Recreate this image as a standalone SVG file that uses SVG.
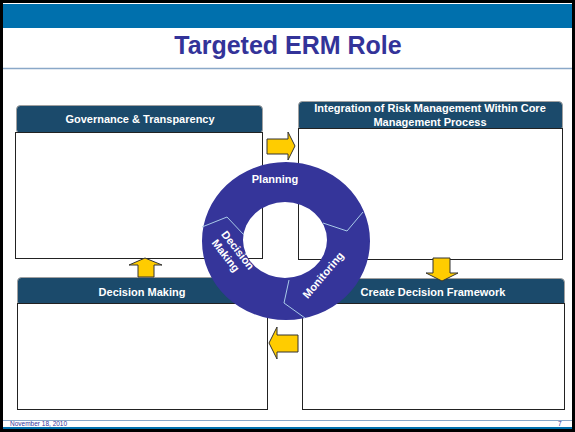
<svg xmlns="http://www.w3.org/2000/svg" width="575" height="432" viewBox="0 0 575 432">
  <style>
    .hdr { fill: #1b4a6b; stroke: #a0a0a0; stroke-width: 1; }
    .body { fill: #ffffff; stroke: #222222; stroke-width: 1; }
    .hdrtxt { font-family: "Liberation Sans", Arial, sans-serif; font-weight: bold; font-size: 11px; fill: #ffffff; text-anchor: middle; }
    .ringtxt { font-family: "Liberation Sans", Arial, sans-serif; font-weight: bold; font-size: 11px; fill: #ffffff; text-anchor: middle; }
    .arrow { fill: #ffcc00; stroke: #333333; stroke-width: 1; stroke-linejoin: miter; }
    .sep { fill: none; stroke: #a9cbe8; stroke-width: 1; }
    .foot { font-family: "Liberation Sans", Arial, sans-serif; font-size: 6.5px; fill: #333399; }
  </style>

  <!-- slide background and frame -->
  <rect x="0" y="0" width="575" height="432" fill="#ffffff"/>
  <rect x="3" y="4" width="569" height="24" fill="#0070ad"/>
  <rect x="0" y="427" width="575" height="5" fill="#0070ad"/>
  <line x1="3" y1="68.5" x2="572" y2="68.5" stroke="#8aa8c8" stroke-width="1.5"/>
  <line x1="3" y1="420.5" x2="572" y2="420.5" stroke="#8aa8c8" stroke-width="1"/>
  <rect x="1.5" y="1.5" width="572" height="429" fill="none" stroke="#000000" stroke-width="3"/>

  <text x="288" y="54" font-family="Liberation Sans, Arial, sans-serif" font-weight="bold" font-size="25" fill="#333399" text-anchor="middle">Targeted ERM Role</text>

  <text class="foot" x="10" y="425.5">November 18, 2010</text>
  <text class="foot" x="558" y="425.5">7</text>

  <!-- quadrant boxes -->
  <g id="governance">
    <rect class="hdr" x="16.5" y="105.5" width="246" height="28" rx="4"/>
    <rect class="body" x="15.5" y="132.5" width="247" height="126"/>
    <text class="hdrtxt" x="140" y="123">Governance &amp; Transparency</text>
  </g>

  <g id="integration">
    <rect class="hdr" x="298.5" y="101.5" width="264" height="29" rx="4"/>
    <rect class="body" x="298.5" y="128.5" width="264" height="131"/>
    <text class="hdrtxt" x="430" y="112">Integration of Risk Management Within Core</text>
    <text class="hdrtxt" x="430" y="126">Management Process</text>
  </g>

  <g id="decision-making">
    <rect class="hdr" x="17.5" y="277.5" width="250" height="28" rx="4"/>
    <rect class="body" x="17.5" y="303.5" width="250" height="106"/>
    <text class="hdrtxt" x="142" y="296">Decision Making</text>
  </g>

  <g id="decision-framework">
    <rect class="hdr" x="302.5" y="278.5" width="262" height="28" rx="4"/>
    <rect class="body" x="302.5" y="303.5" width="262" height="106"/>
    <text class="hdrtxt" x="433" y="296">Create Decision Framework</text>
  </g>

  <!-- block arrows between quadrants -->
  <g id="connectors">
    <polygon class="arrow" points="267,139 288,139 288,132 295,146 288,160 288,154 267,154"/>
    <polygon class="arrow" points="433,258 450,258 450,273 458,273 442,281 426,273 433,273"/>
    <polygon class="arrow" points="298,335 277,335 277,327 269,343 277,359 277,352 298,352"/>
    <polygon class="arrow" points="138,277 138,265 129,265 145,258 162,265 154,265 154,277"/>
  </g>

  <!-- central cycle ring -->
  <g id="cycle">
    <path fill="#35359a" fill-rule="evenodd" d="M202,241 A84,79 0 1 0 370,241 A84,79 0 1 0 202,241 Z M243,240 A42,38 0 1 1 327,240 A42,38 0 1 1 243,240 Z"/>
    <polyline class="sep" points="202,227 227,217 244,235"/>
    <polyline class="sep" points="363,212 347,231 323,223"/>
    <polyline class="sep" points="289,280 284,303 305,318"/>
    <text class="ringtxt" x="275" y="183">Planning</text>
    <text class="ringtxt" transform="translate(323,275) rotate(-50)" x="0" y="4">Monitoring</text>
    <text class="ringtxt" transform="translate(238,250) rotate(52)" x="0" y="4">Decision</text>
    <text class="ringtxt" transform="translate(226,255.5) rotate(52)" x="0" y="4">Making</text>
  </g>
</svg>
